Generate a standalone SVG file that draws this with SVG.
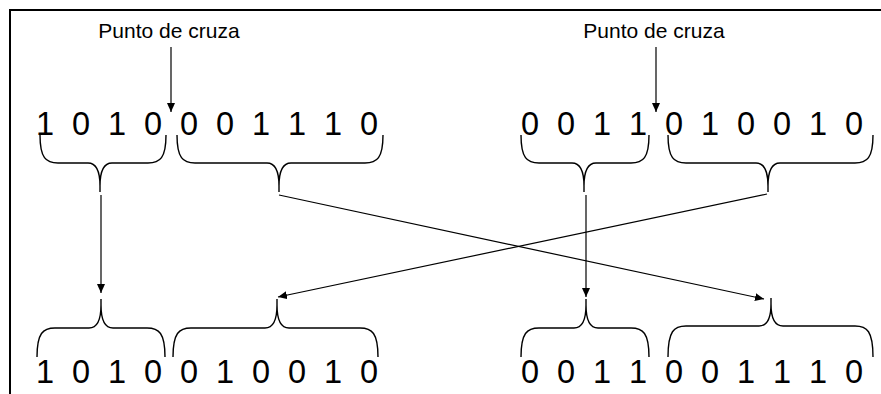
<svg xmlns="http://www.w3.org/2000/svg" width="881" height="394" viewBox="0 0 881 394">
<style>
.frame{fill:none;stroke:#000;stroke-width:2}
.brace{fill:none;stroke:#000;stroke-width:1.4}
.conn{fill:none;stroke:#000;stroke-width:1.2}
.lbl{font-family:"Liberation Sans",Arial,sans-serif;font-size:21px;fill:#000;text-anchor:middle}
.dig{font-family:"Liberation Sans",Arial,sans-serif;font-size:32.5px;fill:#000;text-anchor:middle}
</style>
<defs>
<marker id="ah" markerUnits="userSpaceOnUse" markerWidth="10" markerHeight="8" refX="9" refY="4" orient="auto">
<path d="M0,0 L9,4 L0,8 Z" fill="#000"/>
</marker>
</defs>
<rect width="881" height="394" fill="#fff"/>
<path class="frame" d="M10,394 L10,10 L881,10"/>

<g id="label-left"><text class="lbl" x="169" y="38">Punto de cruza</text></g>
<g id="label-right"><text class="lbl" x="654" y="38">Punto de cruza</text></g>

<g id="parent1">
<text class="dig" x="45" y="135">1</text><text class="dig" x="81" y="135">0</text><text class="dig" x="117" y="135">1</text><text class="dig" x="153" y="135">0</text>
<text class="dig" x="189" y="135">0</text><text class="dig" x="225" y="135">0</text><text class="dig" x="261" y="135">1</text><text class="dig" x="297" y="135">1</text><text class="dig" x="333" y="135">1</text><text class="dig" x="369" y="135">0</text>
<path class="brace" d="M40,135 C40,158 46,163 58,163 L88,163 C96,163 100,170 100,186 L100,192 M166,135 C166,158 160,163 148,163 L112,163 C104,163 100,170 100,186"/>
<path class="brace" d="M177,135 C177,158 183,163 195,163 L267,163 C275,163 279,170 279,186 L279,192 M383,135 C383,158 377,163 365,163 L291,163 C283,163 279,170 279,186"/>
</g>

<g id="parent2">
<text class="dig" x="530" y="135">0</text><text class="dig" x="566" y="135">0</text><text class="dig" x="602" y="135">1</text><text class="dig" x="638" y="135">1</text>
<text class="dig" x="674" y="135">0</text><text class="dig" x="710" y="135">1</text><text class="dig" x="746" y="135">0</text><text class="dig" x="782" y="135">0</text><text class="dig" x="818" y="135">1</text><text class="dig" x="854" y="135">0</text>
<path class="brace" d="M521,135 C521,158 527,163 539,163 L572,163 C580,163 584,170 584,186 L584,192 M649,135 C649,158 643,163 631,163 L596,163 C588,163 584,170 584,186"/>
<path class="brace" d="M668,135 C668,158 674,163 686,163 L756,163 C764,163 768,170 768,186 L768,192 M873,135 C873,158 867,163 855,163 L780,163 C772,163 768,170 768,186"/>
</g>

<g id="child1">
<path class="brace" d="M101,299 L101,305 C101,321 97,328 89,328 L55,328 C43,328 37,333 37,357 M101,305 C101,321 105,328 113,328 L147,328 C159,328 165,333 165,357"/>
<path class="brace" d="M277,299 L277,305 C277,321 273,328 265,328 L191,328 C179,328 173,333 173,357 M277,305 C277,321 281,328 289,328 L360,328 C372,328 378,333 378,357"/>
<text class="dig" x="45" y="383">1</text><text class="dig" x="81" y="383">0</text><text class="dig" x="117" y="383">1</text><text class="dig" x="153" y="383">0</text>
<text class="dig" x="189" y="383">0</text><text class="dig" x="225" y="383">1</text><text class="dig" x="261" y="383">0</text><text class="dig" x="297" y="383">0</text><text class="dig" x="333" y="383">1</text><text class="dig" x="369" y="383">0</text>
</g>

<g id="child2">
<path class="brace" d="M586,299 L586,305 C586,321 582,328 574,328 L539,328 C527,328 521,333 521,357 M586,305 C586,321 590,328 598,328 L631,328 C643,328 649,333 649,357"/>
<path class="brace" d="M771,298 L771,304 C771,319 767,326 759,326 L686,326 C674,326 668,331 668,357 M771,304 C771,319 775,326 783,326 L855,326 C867,326 873,331 873,357"/>
<text class="dig" x="530" y="383">0</text><text class="dig" x="566" y="383">0</text><text class="dig" x="602" y="383">1</text><text class="dig" x="638" y="383">1</text>
<text class="dig" x="674" y="383">0</text><text class="dig" x="710" y="383">0</text><text class="dig" x="746" y="383">1</text><text class="dig" x="782" y="383">1</text><text class="dig" x="818" y="383">1</text><text class="dig" x="854" y="383">0</text>
</g>

<g id="connectors">
<line class="conn" x1="171" y1="47" x2="171" y2="112" marker-end="url(#ah)"/>
<line class="conn" x1="656" y1="47" x2="656" y2="112" marker-end="url(#ah)"/>
<line class="conn" x1="101" y1="195" x2="101" y2="293" marker-end="url(#ah)"/>
<line class="conn" x1="586" y1="195" x2="586" y2="297" marker-end="url(#ah)"/>
<line class="conn" x1="279" y1="195" x2="764" y2="299" marker-end="url(#ah)"/>
<line class="conn" x1="767" y1="194" x2="278" y2="297" marker-end="url(#ah)"/>
</g>
</svg>
